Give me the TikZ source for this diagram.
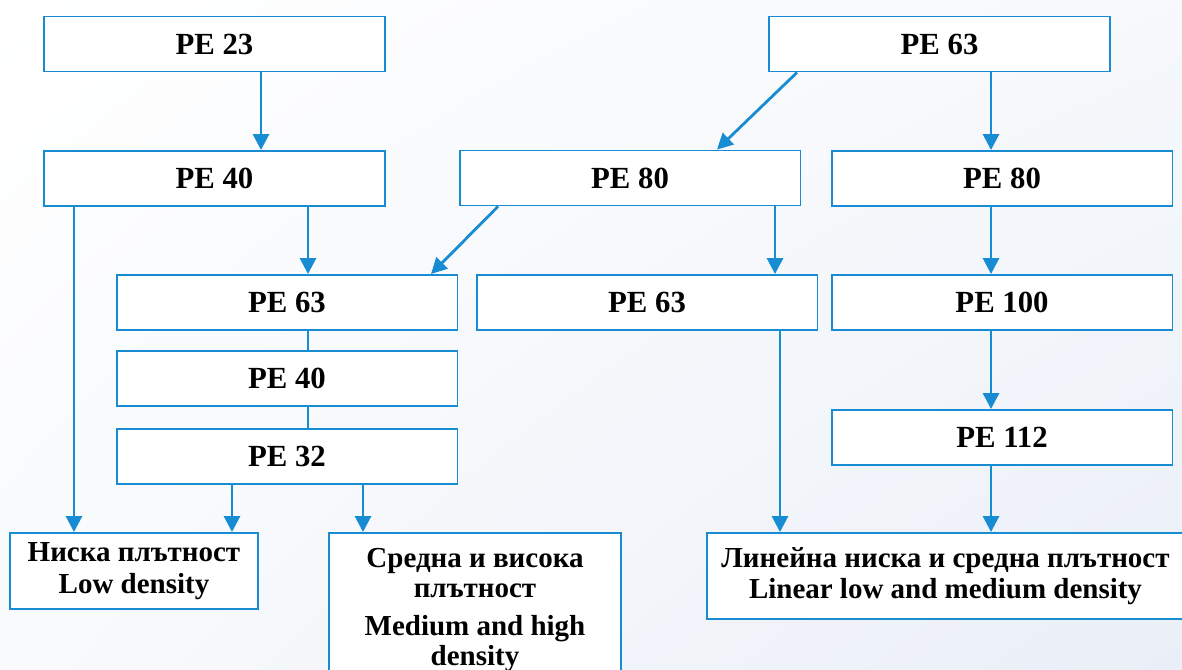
\documentclass[tikz,border=0pt]{standalone}
\usepackage{fontspec}
\setmainfont{Liberation Serif}
\usetikzlibrary{arrows.meta,shadings}
\definecolor{lineblue}{RGB}{24,140,210}
\definecolor{bgblue}{RGB}{234,239,247}

\begin{document}
\begin{tikzpicture}[x=0.02cm,y=-0.02cm,
    box/.style={draw=lineblue,line width=1.1pt,fill=white,inner sep=0pt,
      minimum width=6.82cm,minimum height=1.1cm,font=\bfseries\fontsize{17.5}{21}\selectfont},
    densbox/.style={draw=lineblue,line width=1.1pt,fill=white,inner sep=0pt,
      align=center,font=\bfseries\fontsize{16.5}{18}\selectfont},
    arr/.style={draw=lineblue,line width=1.6pt,-{Triangle[width=9pt,length=9pt]}},
    link/.style={draw=lineblue,line width=0.6pt}]

    \clip (0,0) rectangle (1182,669);
    \shade[upper left=white,upper right=bgblue!40!white,lower left=bgblue!30!white,lower right=bgblue]
      (0,0) rectangle (1182,669);

    % left branch
    \node[box] (pe23)  at (214.5,44)  {PE 23};
    \node[box] (pe40a) at (214.5,178.5) {PE 40};
    \node[box] (pe63a) at (287,302.5) {PE 63};
    \node[box] (pe40b) at (287,378.5) {PE 40};
    \node[box] (pe32)  at (287,456.5) {PE 32};

    % right branch
    \node[box] (pe63b) at (939.5,44)  {PE 63};
    \node[box] (pe80a) at (630,178)   {PE 80};
    \node[box] (pe80b) at (1002,178.5) {PE 80};
    \node[box] (pe63c) at (647,302.5) {PE 63};
    \node[box] (pe100) at (1002,302.5) {PE 100};
    \node[box] (pe112) at (1002,437.5) {PE 112};

    % densities
    \node[densbox,minimum width=4.96cm,minimum height=1.52cm] (low) at (134,571)
      {Ниска плътност\\Low density};
    \node[densbox,minimum width=5.84cm,minimum height=3.08cm,
      font=\bfseries\fontsize{16.5}{17}\selectfont] (mhd) at (475,610)
      {Средна и висока\\плътност\\[5pt]Medium and high\\density};
    \node[densbox,minimum width=9.54cm,minimum height=1.72cm] (lin) at (945.5,576)
      {Линейна ниска и средна плътност\\Linear low and medium density};

    \draw[arr] (pe23.south -| 261,0) -- (pe40a.north -| 261,0);
    \draw[arr] (pe40a.south -| 308,0) -- (pe63a.north -| 308,0);
    \draw[arr] (pe40a.south -| 74,0) -- (low.north -| 74,0);
    \draw[link] (pe63a.south -| 308,0) -- (pe40b.north -| 308,0);
    \draw[link] (pe40b.south -| 308,0) -- (pe32.north -| 308,0);
    \draw[arr] (pe32.south -| 232,0) -- (low.north -| 232,0);
    \draw[arr] (pe32.south -| 363,0) -- (mhd.north -| 363,0);

    \draw[arr] (pe63b.south -| 797,0) -- (pe80a.north -| 717,0);
    \draw[arr] (pe63b.south -| 991,0) -- (pe80b.north -| 991,0);
    \draw[arr] (pe80a.south -| 498,0) -- (pe63a.north -| 431,0);
    \draw[arr] (pe80a.south -| 775,0) -- (pe63c.north -| 775,0);
    \draw[arr] (pe63c.south -| 780,0) -- (lin.north -| 780,0);
    \draw[arr] (pe80b.south -| 991,0) -- (pe100.north -| 991,0);
    \draw[arr] (pe100.south -| 991,0) -- (pe112.north -| 991,0);
    \draw[arr] (pe112.south -| 991,0) -- (lin.north -| 991,0);

\end{tikzpicture}
\end{document}
